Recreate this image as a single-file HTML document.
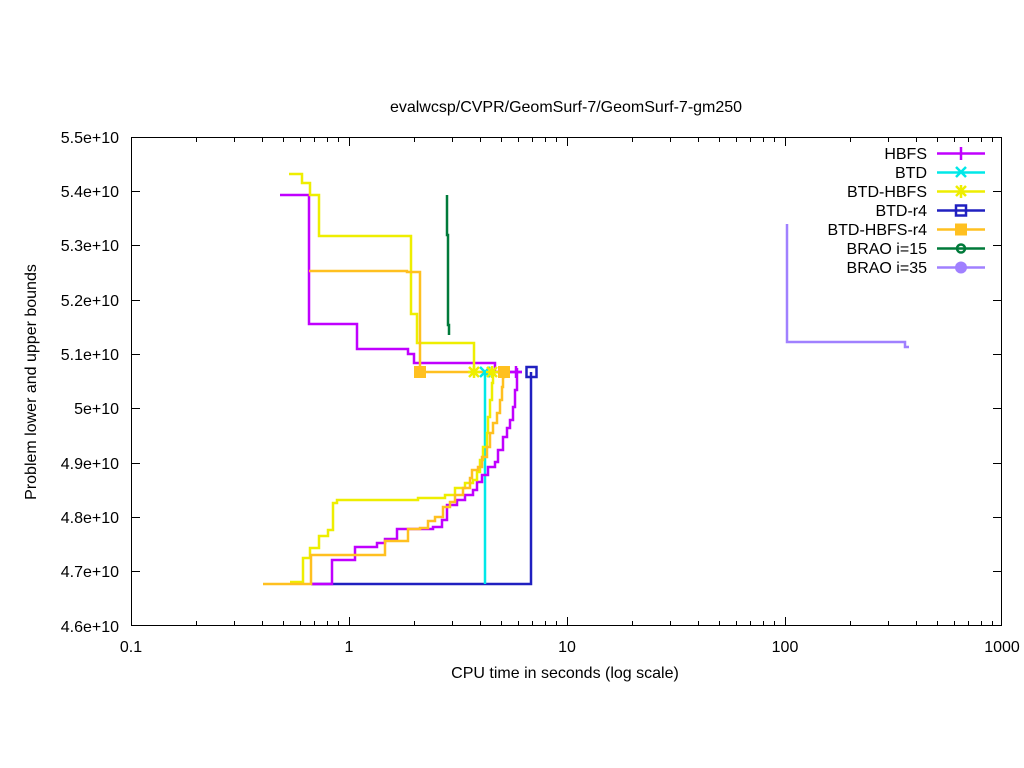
<!DOCTYPE html>
<html><head><meta charset="utf-8"><style>
html,body{margin:0;padding:0;background:#fff;}
svg{display:block;font-family:"Liberation Sans",sans-serif;}
</style></head><body>
<svg width="1024" height="768" viewBox="0 0 1024 768" xmlns="http://www.w3.org/2000/svg">
<rect width="1024" height="768" fill="#fff"/>
<text x="566" y="112" font-size="16" text-anchor="middle" fill="#000">evalwcsp/CVPR/GeomSurf-7/GeomSurf-7-gm250</text>
<g stroke="#000" stroke-width="1" fill="none">
<rect x="131.5" y="137.5" width="870" height="488"/>
<path d="M131 191.5h9M131 245.5h9M131 300.5h9M131 354.5h9M131 408.5h9M131 463.5h9M131 517.5h9M131 571.5h9
M1002 191.5h-9M1002 245.5h-9M1002 300.5h-9M1002 354.5h-9M1002 408.5h-9M1002 463.5h-9M1002 517.5h-9M1002 571.5h-9"/>
<path d="
M196.5 626v-5M234.5 626v-5M262.5 626v-5M283.5 626v-5M300.5 626v-5M314.5 626v-5M327.5 626v-5M338.5 626v-5M349.5 626v-9
M414.5 626v-5M452.5 626v-5M480.5 626v-5M501.5 626v-5M518.5 626v-5M532.5 626v-5M545.5 626v-5M556.5 626v-5M567.5 626v-9
M632.5 626v-5M670.5 626v-5M698.5 626v-5M719.5 626v-5M736.5 626v-5M750.5 626v-5M763.5 626v-5M774.5 626v-5M785.5 626v-9
M850.5 626v-5M888.5 626v-5M916.5 626v-5M937.5 626v-5M954.5 626v-5M968.5 626v-5M981.5 626v-5M992.5 626v-5
M196.5 137v5M234.5 137v5M262.5 137v5M283.5 137v5M300.5 137v5M314.5 137v5M327.5 137v5M338.5 137v5M349.5 137v9
M414.5 137v5M452.5 137v5M480.5 137v5M501.5 137v5M518.5 137v5M532.5 137v5M545.5 137v5M556.5 137v5M567.5 137v9
M632.5 137v5M670.5 137v5M698.5 137v5M719.5 137v5M736.5 137v5M750.5 137v5M763.5 137v5M774.5 137v5M785.5 137v9
M850.5 137v5M888.5 137v5M916.5 137v5M937.5 137v5M954.5 137v5M968.5 137v5M981.5 137v5M992.5 137v5"/>
</g>
<g font-size="16" fill="#000" text-anchor="end">
<text x="119" y="143">5.5e+10</text>
<text x="119" y="197">5.4e+10</text>
<text x="119" y="251">5.3e+10</text>
<text x="119" y="306">5.2e+10</text>
<text x="119" y="360">5.1e+10</text>
<text x="119" y="414">5e+10</text>
<text x="119" y="469">4.9e+10</text>
<text x="119" y="523">4.8e+10</text>
<text x="119" y="577">4.7e+10</text>
<text x="119" y="632">4.6e+10</text>
</g>
<g font-size="16" fill="#000" text-anchor="middle">
<text x="131" y="652">0.1</text>
<text x="349" y="652">1</text>
<text x="567" y="652">10</text>
<text x="785" y="652">100</text>
<text x="1002" y="652">1000</text>
<text x="565" y="678">CPU time in seconds (log scale)</text>
<text transform="translate(36,382) rotate(-90)">Problem lower and upper bounds</text>
</g>
<g fill="none" stroke-width="2.5">
<path stroke="#a080ff" d="M787 224V342H905V347H909"/>
<path stroke="#007a3a" d="M447 195V235H448V325H449V335"/>
<path stroke="#2020c0" d="M311 584H531V372"/>
<path stroke="#00e8e8" d="M485 584V372"/>
<path stroke="#c000ff" d="M280 195H309V324H357V349H408V354H414V363H495V372H522"/>
<path stroke="#c000ff" d="M312 584H332V560H355V547H377V543H385V539H397V529H433V527H442V520H447V505H457V500H465V495H473V490H477V482H482V475H488V467H495V462H498V450H503V437H507V428H510V420H513V407H515V390H517V368"/>
<path stroke="#eeee00" d="M289 174H302V183H310V195H319V236H411V314H417V343H474V372"/>
<path stroke="#eeee00" d="M290 582H303V558H310V548H319V536H328V530H333V503H337V500H418V498H445V495H455V488H465V483H473V480H477V472H480V460H483V447H487V433H488V417H490V400H492V383H493V372"/>
<path stroke="#ffc020" d="M309 271H407V272H420V372H504"/>
<path stroke="#ffc020" d="M263 584H311V555H385V541H408V529H420V528H428V521H435V517H443V507H450V502H455V495H463V488H470V478H472V470H478V467H482V457H487V447H490V433H493V423H497V413H500V400H502V387H503V377H504V372"/>
</g>
<g stroke-width="2.5" fill="none">
<path stroke="#c000ff" d="M516 366v12M510 372h12"/>
<path stroke="#00e8e8" d="M480 367l10 10M490 367l-10 10"/>
<path stroke="#eeee00" d="M469 367l10 10M479 367l-10 10M474 366v12M468 372h12M487 367l10 10M497 367l-10 10M492 366v12M486 372h12"/>
<rect stroke="#2020c0" x="526.5" y="367" width="10" height="10"/>
</g>
<rect fill="#ffc020" x="414" y="366" width="12" height="12"/>
<rect fill="#ffc020" x="498" y="366" width="12" height="12"/>
<g font-size="16" fill="#000" text-anchor="end">
<text x="927" y="159">HBFS</text>
<text x="927" y="178">BTD</text>
<text x="927" y="197">BTD-HBFS</text>
<text x="927" y="216">BTD-r4</text>
<text x="927" y="235">BTD-HBFS-r4</text>
<text x="927" y="254">BRAO i=15</text>
<text x="927" y="273">BRAO i=35</text>
</g>
<g stroke-width="2.5" fill="none">
<path stroke="#c000ff" d="M937 153.5h48M961 147v13"/>
<path stroke="#00e8e8" d="M937 172.5h48M956 167l10 10M966 167l-10 10"/>
<path stroke="#eeee00" d="M937 191.5h48M956 186l10 10M966 186l-10 10M961 185v13"/>
<path stroke="#2020c0" d="M937 210.5h48"/>
<rect stroke="#2020c0" x="956" y="205.5" width="10" height="10"/>
<path stroke="#ffc020" d="M937 229.5h48"/>
<path stroke="#007a3a" d="M937 248.5h48"/>
<circle stroke="#007a3a" cx="961" cy="248.5" r="4"/>
<path stroke="#a080ff" d="M937 267.5h48"/>
</g>
<rect fill="#ffc020" x="955" y="223.5" width="12" height="12"/>
<circle fill="#a080ff" cx="961" cy="267.5" r="6"/>
</svg>
</body></html>
